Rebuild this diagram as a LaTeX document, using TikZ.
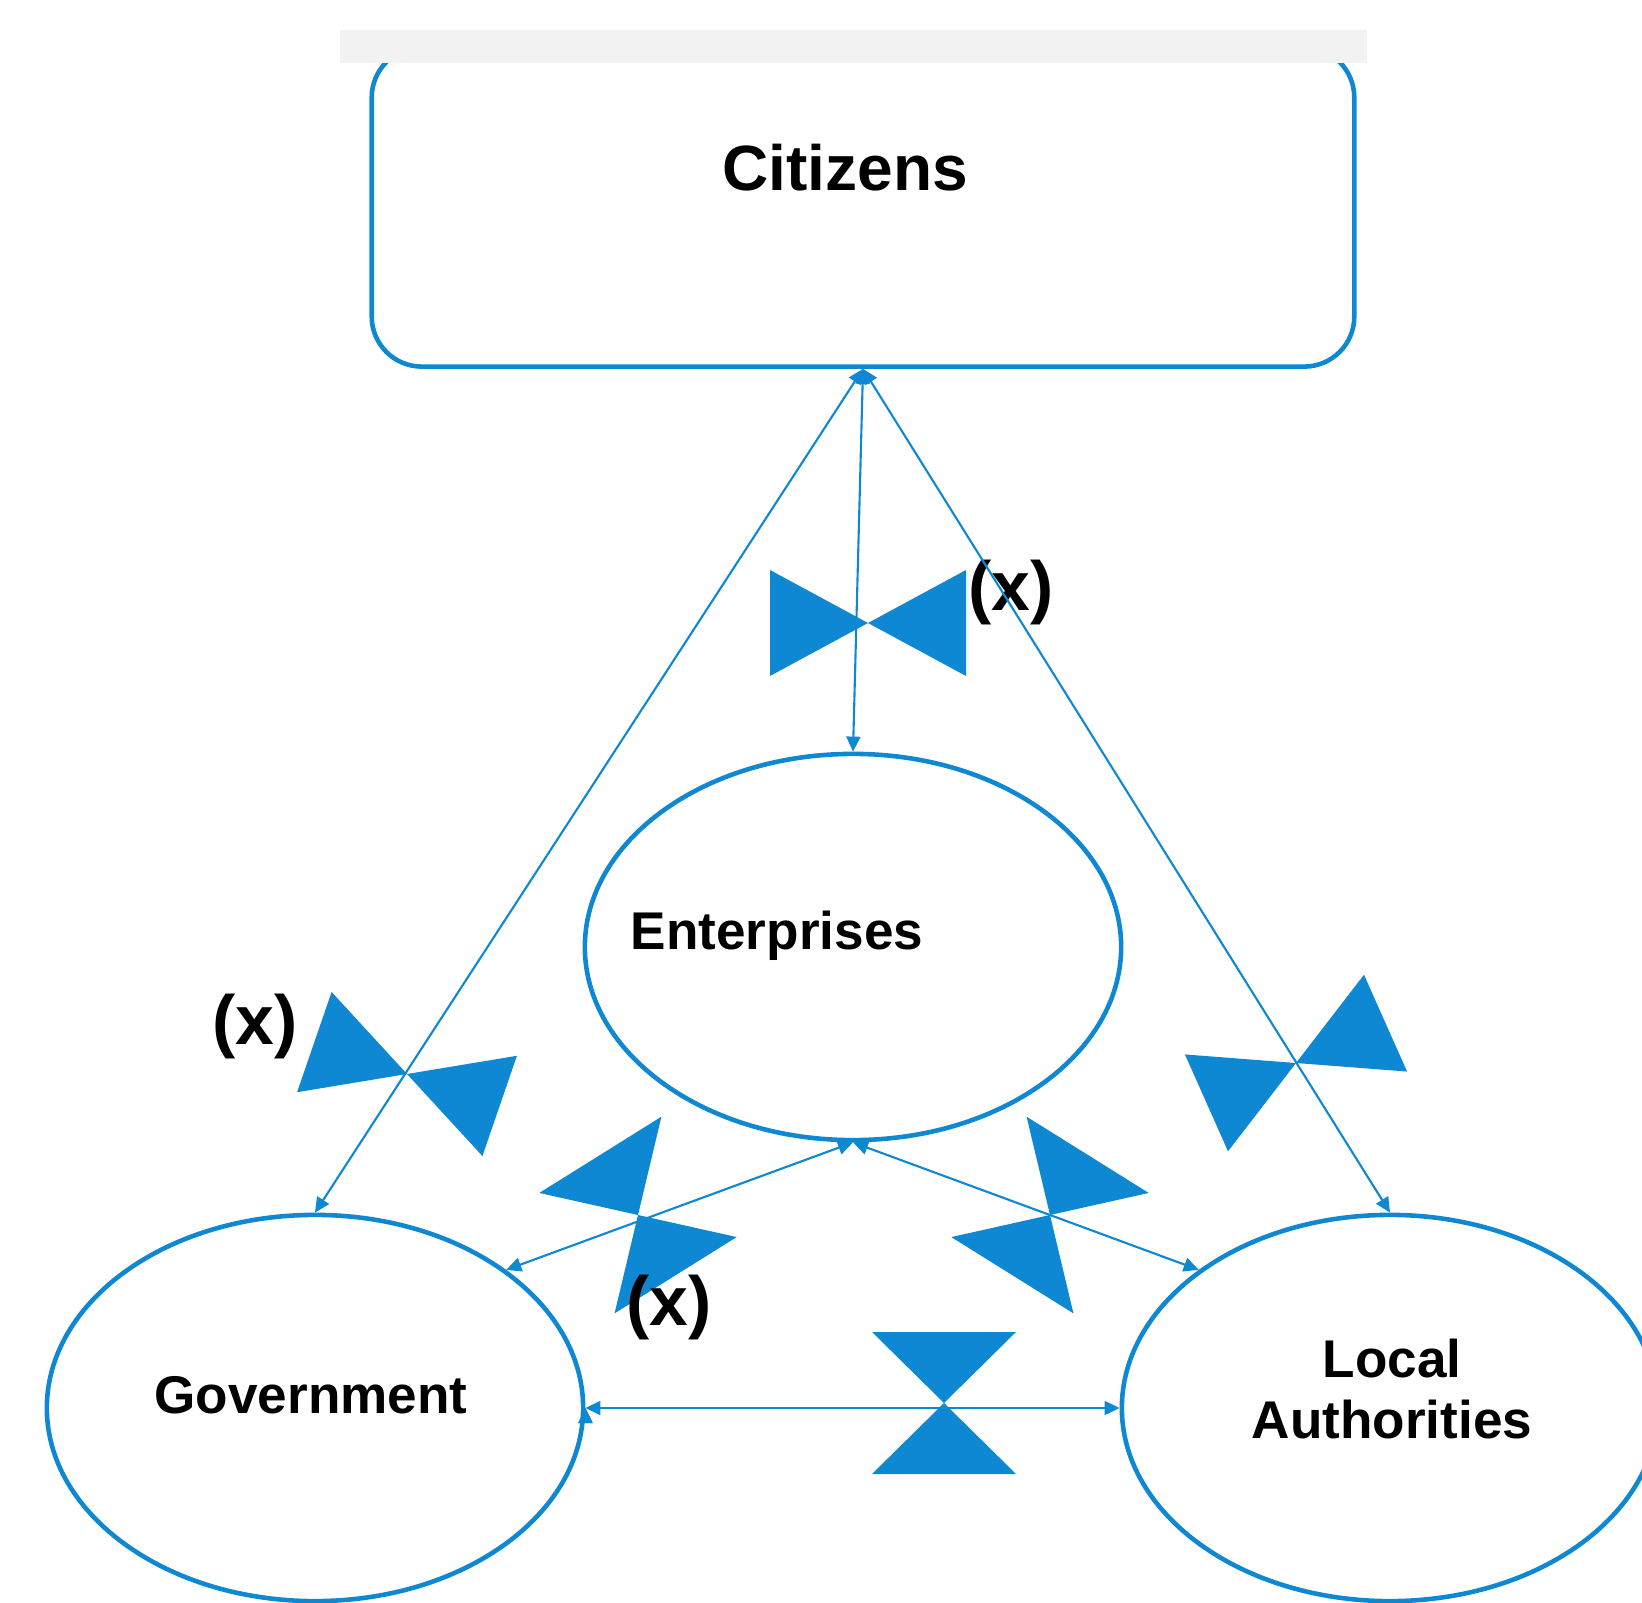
\documentclass[tikz,border=0pt]{standalone}
\usepackage{fontspec}
\setmainfont{Liberation Sans}
\usetikzlibrary{shapes.geometric, arrows.meta, positioning}

\definecolor{netblue}{HTML}{0E88D3}
\definecolor{bargray}{HTML}{F2F2F2}

\tikzset{
    org/.style={ellipse, draw=netblue, line width=1.3pt, minimum width=5.36cm, minimum height=3.86cm, inner sep=0pt},
    citbox/.style={rectangle, rounded corners=0.5cm, draw=netblue, line width=1.3pt, minimum width=9.82cm, minimum height=3.19cm, inner sep=0pt},
    orgname/.style={font=\fontsize{15.1pt}{17.6pt}\selectfont\bfseries, inner sep=0pt, anchor=base},
    xtag/.style={font=\fontsize{19.8pt}{24pt}\selectfont\bfseries, inner sep=0pt},
    link/.style={color=netblue, line width=0.6pt, {Triangle[length=0.15cm,width=0.14cm]}-{Triangle[length=0.15cm,width=0.14cm]}},
    valve/.pic={\fill[netblue] (-98,-53) -- (0,0) -- (-98,53) -- cycle (98,-53) -- (0,0) -- (98,53) -- cycle;},
    gate/.pic={\fill[netblue] (-72,-71) -- (0,0) -- (72,-71) -- cycle (-72,71) -- (0,0) -- (72,71) -- cycle;}
}

\begin{document}
\begin{tikzpicture}[x=0.01cm, y=-0.01cm]
    \useasboundingbox (0,0) rectangle (1642,1603);

    % actors
    \node[citbox] (ctz) at (863,207) {};
    \fill[bargray] (340,30) rectangle (1367,63);
    \node[org] (ent) at (853,947) {};
    \node[org] (gov) at (315,1408) {};
    \node[org] (loc) at (1390,1408) {};

    \node[orgname, font=\fontsize{18.2pt}{21pt}\selectfont\bfseries] at (845,191) {Citizens};
    \node[orgname] at (777,949) {Enterprises};
    \node[orgname] at (311,1413) {Government};
    \node[orgname, align=center, anchor=center] at (1392,1389) {Local\\Authorities};

    % valves
    \pic at (868,623) {valve};
    \pic[rotate=-19] at (407,1074) {valve};
    \pic[rotate=24] at (1296,1063) {valve};
    \pic[rotate=32] at (638,1215) {gate};
    \pic[rotate=-32] at (1050,1215) {gate};
    \pic at (944,1403) {gate};

    \node[xtag] at (1011,592) {(x)};
    \node[xtag] at (255,1026) {(x)};
    \node[xtag] at (669,1307) {(x)};

    % links
    \draw[link]
    (ctz.south) edge (ent.north)
    (ctz.south) edge (gov.north)
    (ctz.south) edge (loc.north)
    (ent.south) edge (gov.north east)
    (ent.south) edge (loc.north west)
    (gov.east) edge (loc.west);
\end{tikzpicture}
\end{document}
